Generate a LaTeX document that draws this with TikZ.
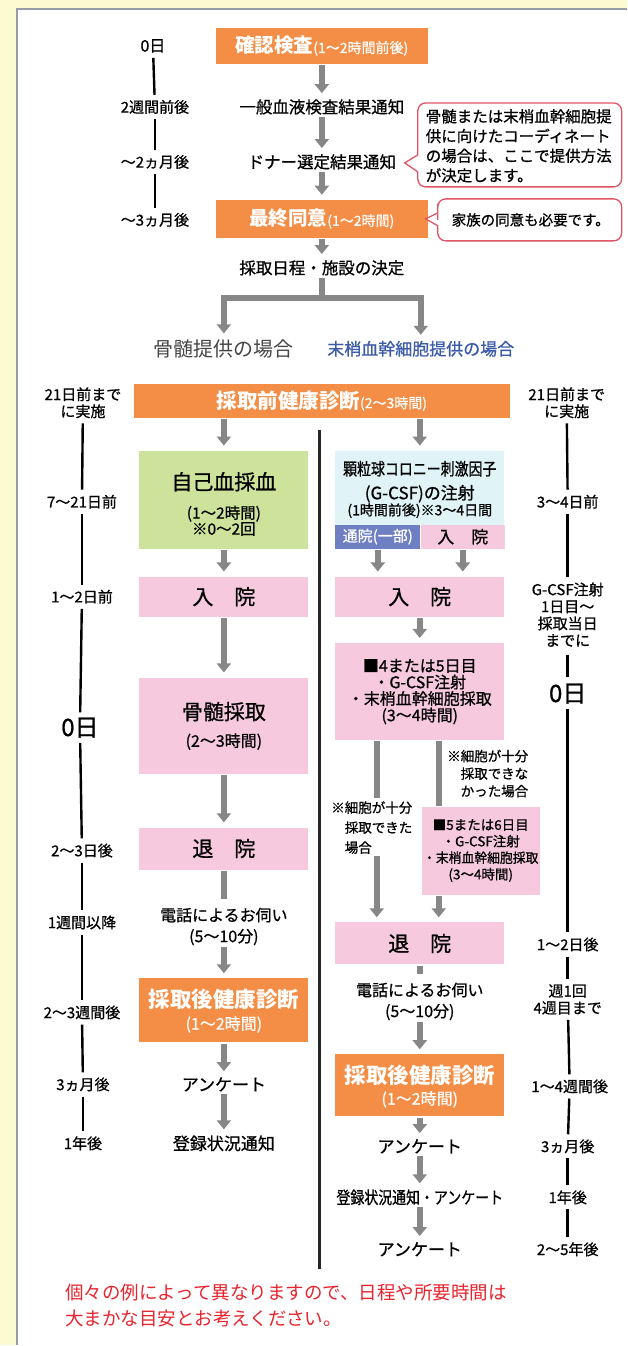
\documentclass[tikz,border=0pt]{standalone}
\usepackage{fontspec}
\usepackage{graphicx}
\setmainfont{Noto Sans CJK JP}[UprightFeatures={FakeBold=0.8}]
\newfontfamily\thinfont{Noto Sans CJK JP}
\usetikzlibrary{arrows.meta,calc}
\definecolor{bgyellow}{RGB}{252,250,208}
\definecolor{framegray}{RGB}{150,155,165}
\definecolor{orangebx}{RGB}{244,142,70}
\definecolor{pinkbx}{RGB}{247,201,222}
\definecolor{greenbx}{RGB}{205,227,155}
\definecolor{cyanbx}{RGB}{224,243,247}
\definecolor{bluebx}{RGB}{110,127,196}
\definecolor{arrgray}{RGB}{135,135,135}
\definecolor{calred}{RGB}{224,84,100}
\definecolor{txtred}{RGB}{232,36,46}
\definecolor{txtblue}{RGB}{60,92,170}
\definecolor{txtgray}{RGB}{70,70,70}
\newcommand{\fs}[2]{\fontsize{#1}{#2}\selectfont}
\newcommand{\sx}[2]{\scalebox{#1}[1]{#2}}
\begin{document}
\begin{tikzpicture}[x=1pt,y=-1pt,
  every node/.style={inner sep=1pt, align=center},
  bx/.style={minimum width=169pt, inner sep=0pt},
  obox/.style={bx, fill=orangebx, text=white},
  pbox/.style={bx, fill=pinkbx},
  gbox/.style={bx, fill=greenbx},
  lbl/.style={font=\fs{15}{17}},
  txt/.style={font=\fs{16.5}{20}},
  tline/.style={line width=2.4pt, shorten <=4pt, shorten >=4pt},
  garrow/.style={line width=6pt, draw=arrgray, -{Triangle[width=14pt,length=9pt]}, shorten <=1pt, shorten >=5pt},
  gstub/.style={line width=6pt, draw=arrgray, shorten <=1pt},
  callout/.style={draw=calred, line width=1.3pt, fill=white},
]
% background
\fill[bgyellow] (0,0) rectangle (627,1346);
\fill[white] (17,9) rectangle (627,1346);
\draw[framegray, line width=1.5pt] (17,1346) -- (17,9) -- (627,9);
\useasboundingbox (0,0) rectangle (627,1346);

% ---------- top section ----------
\node[lbl, font=\fs{16}{18}] (lab0) at (153,46) {0日};
\node[obox, minimum width=212pt, minimum height=36pt] (box1) at (322,46) {{\fs{19.5}{22}\bfseries 確認検査}{\fs{14}{16}(1～2時間前後)}};
\node[lbl] (lab1) at (155,107) {2週間前後};
\node[txt] (t1) at (322,107) {一般血液検査結果通知};
\node[lbl] (lab2) at (155,162) {～2ヵ月後};
\node[txt] (t2) at (322,162) {ドナー選定結果通知};
\node[obox, minimum width=212pt, minimum height=38pt] (box2) at (322,219) {{\fs{19.5}{22}\bfseries 最終同意}{\fs{14}{16}(1～2時間)}};
\node[lbl] (lab3) at (155,220) {～3ヵ月後};
\node[txt] (t3) at (322,268) {採取日程・施設の決定};

\draw[tline] (lab0) -- (lab1);
\draw[tline] (lab1) -- (lab2);
\draw[tline] (lab2) -- (lab3);

\draw[garrow] (box1.south) -- (t1.north);
\draw[garrow] (t1.south) -- (t2.north);
\draw[garrow] (t2.south) -- (box2.north);
\draw[garrow] (box2.south) -- (t3.north);

% callouts
\draw[callout] (418,145) [sharp corners] -- (418,155) -- (405,163) -- (418,172) -- (418,178) [rounded corners=8pt] -- (418,187) -- (622,187) -- (622,103) -- (418,103) -- cycle;
\node[font=\fs{15.5}{19.7}, align=left] (cal1) at (519,146) {骨髄または末梢血幹細胞提\\供に向けたコーディネート\\の場合は、ここで提供方法\\が決定します。};
\draw[callout] (438,212) [sharp corners] -- (438,213) -- (426,219) -- (438,226) -- (438,230) [rounded corners=8pt] -- (438,241) -- (622,241) -- (622,199) -- (438,199) -- cycle;
\node[font=\fs{14.5}{17}] (cal2) at (531,220) {家族の同意も必要です。};

% branch
\node[font=\thinfont\fs{20}{22}, text=txtgray] (t4a) at (224,349) {骨髄提供の場合};
\node[font=\fs{17}{20}, text=txtblue] (t4b) at (421,349) {末梢血幹細胞提供の場合};
\coordinate (br) at (322,298);
\draw[gstub] (t3.south) -- (br);
\draw[garrow, line join=miter, shorten <=0pt] (br) -| (t4a.north);
\draw[garrow, line join=miter, shorten <=0pt] (br) -| (t4b.north);

% pre-exam
\node[obox, minimum width=376pt, minimum height=34pt] (box3) at (322,401) {{\fs{20.5}{22}\bfseries 採取前健康診断}{\fs{14}{16}(2～3時間)}};
\node[lbl] (lab4L) at (83,403) {21日前まで\\に実施};
\node[lbl] (lab4R) at (567,403) {21日前まで\\に実施};

% divider
\coordinate (dv1) at (320,430);
\coordinate (dv2) at (320,1270);
\draw[line width=3pt, black!85] (dv1) -- (dv2);

% ---------- left column ----------
\node[gbox, minimum height=98pt] (g1) at (224,500) {};
\node[font=\fs{21}{22}] (g1a) at (224,482) {自己血採血};
\node[font=\fs{15.5}{16}] (g1b) at (224,521) {(1～2時間)\\※0～2回};
\node[pbox, minimum height=40pt] (pIn1) at (224,597) {\fs{21}{24}入　院};
\node[pbox, minimum height=96pt] (pBone) at (224,726) {};
\node[font=\fs{21}{24}] (pBa) at (224,712) {骨髄採取};
\node[font=\fs{16}{18}] (pBb) at (224,742) {(2～3時間)};
\node[pbox, minimum height=42pt] (pOut1) at (224,849) {\fs{21}{24}退　院};
\node[font=\fs{16}{21}] (tel1) at (224,927) {電話によるお伺い\\(5～10分)};
\node[obox, minimum height=64pt] (oPost1) at (224,1011) {};
\node[font=\fs{21.5}{24}\bfseries, text=white] (oP1a) at (224,1000) {採取後健康診断};
\node[font=\fs{16}{18}, text=white] (oP1b) at (224,1025) {(1～2時間)};
\node[font=\fs{17}{20}] (q1) at (224,1085) {アンケート};
\node[font=\fs{17}{20}] (r1) at (224,1144) {登録状況通知};

\draw[garrow] (box3.south -| g1.north) -- (g1.north);
\draw[garrow] (g1.south) -- (pIn1.north);
\draw[garrow] (pIn1.south) -- (pBone.north);
\draw[garrow] (pBone.south) -- (pOut1.north);
\draw[gstub, shorten >=8pt] (pOut1.south) -- (tel1.north);
\draw[garrow] (tel1.south) -- (oPost1.north);
\draw[garrow] (oPost1.south) -- (q1.north);
\draw[garrow] (q1.south) -- (r1.north);

% left timeline
\node[lbl] (la1) at (82,502) {7～21日前};
\node[lbl] (la2) at (82,597) {1～2日前};
\node[font=\fs{24}{26}] (la3) at (80,728) {0日};
\node[lbl] (la4) at (82,851) {2～3日後};
\node[lbl] (la5) at (82,923) {1週間以降};
\node[lbl] (la6) at (82,1013) {2～3週間後};
\node[lbl] (la7) at (83,1085) {3ヵ月後};
\node[lbl] (la8) at (83,1144) {1年後};
\draw[tline] (lab4L) -- (la1);
\draw[tline] (la1) -- (la2);
\draw[tline] (la2) -- (la3);
\draw[tline] (la3) -- (la4);
\draw[tline] (la4) -- (la5);
\draw[tline] (la5) -- (la6);
\draw[tline] (la6) -- (la7);
\draw[tline] (la7) -- (la8);

% ---------- right column ----------
\node[bx, fill=cyanbx, minimum height=74pt] (c1) at (420,488) {};
\node[font=\fs{17}{18}] (c1a) at (420,469) {\sx{0.82}{顆粒球コロニー刺激因子}};
\node[font=\fs{17}{18}] (c1b) at (420,494) {(G-CSF)の注射};
\node[font=\fs{14}{16}] (c1c) at (420,511) {(1時間前後)※3～4日間};
\node[fill=bluebx, text=white, minimum width=85pt, minimum height=24pt, inner sep=0pt] (c2a) at (378,537) {\fs{15}{17}通院(一部)};
\node[fill=pinkbx, minimum width=84pt, minimum height=24pt, inner sep=0pt] (c2b) at (463,537) {\fs{17}{18}入　院};
\node[pbox, minimum height=40pt] (pIn2) at (420,597) {\fs{21}{24}入　院};
\node[pbox, minimum height=97pt, font=\fs{16}{16.5}] (p45) at (420,692) {■4または5日目\\・G-CSF注射\\・末梢血幹細胞採取\\(3～4時間)};
\node[font=\fs{13.5}{17.5}, align=left] (note1) at (488,774) {※細胞が十分\\\phantom{※}採取できな\\\phantom{※}かった場合};
\node[font=\fs{13.5}{20}, align=left] (note2) at (372,828) {※細胞が十分\\\phantom{※}採取できた\\\phantom{※}場合};
\node[pbox, minimum width=118pt, minimum height=88pt, font=\fs{13.5}{16.5}] (p56) at (481,851) {■5または6日目\\・G-CSF注射\\\sx{0.95}{・末梢血幹細胞採取}\\(3～4時間)};
\node[pbox, minimum height=42pt] (pOut2) at (420,944) {\fs{21}{24}退　院};
\node[font=\fs{16}{21}] (tel2) at (420,1002) {電話によるお伺い\\(5～10分)};
\node[obox, minimum height=62pt] (oPost2) at (420,1086) {};
\node[font=\fs{21.5}{24}\bfseries, text=white] (oP2a) at (420,1076) {採取後健康診断};
\node[font=\fs{16}{18}, text=white] (oP2b) at (420,1100) {(1～2時間)};
\node[font=\fs{17}{20}] (q2) at (420,1147) {アンケート};
\node[font=\fs{17}{20}] (r2) at (420,1198) {\sx{0.82}{登録状況通知・アンケート}};
\node[font=\fs{17}{20}] (q3) at (420,1250) {アンケート};

\draw[garrow] (box3.south -| c1.north) -- (c1.north);
\draw[garrow] (c2a.south) -- (c2a.south |- pIn2.north);
\draw[garrow] (c2b.south) -- (c2b.south |- pIn2.north);
\draw[garrow] (pIn2.south) -- (p45.north);
\coordinate (st1) at ($(p45.south)+(-43,0)$);
\coordinate (st2) at ($(p45.south)+(19,0)$);
\draw[gstub, shorten >=2pt] (st1) -- (st1 |- note2.north);
\draw[garrow] (note2.south -| st1) -- (st1 |- pOut2.north);
\draw[gstub] (st2) -- (st2 |- p56.north);
\draw[garrow] (p56.south -| st2) -- (st2 |- pOut2.north);
\draw[gstub, shorten >=8pt] (pOut2.south) -- (tel2.north);
\draw[garrow] (tel2.south) -- (oPost2.north);
\draw[garrow] (oPost2.south) -- (q2.north);
\draw[garrow] (q2.south) -- (r2.north);
\draw[garrow] (r2.south) -- (q3.north);

% right timeline
\node[lbl] (ra1) at (568,502) {3～4日前};
\node[lbl] (ra2) at (568,615) {G-CSF注射\\1日目～\\採取当日\\までに};
\node[font=\fs{24}{26}] (ra3) at (568,694) {0日};
\node[lbl] (ra4) at (568,945) {1～2日後};
\node[lbl] (ra5) at (568,1000) {週1回\\4週目まで};
\node[lbl] (ra6) at (570,1087) {1～4週間後};
\node[lbl] (ra7) at (568,1147) {3ヵ月後};
\node[lbl] (ra8) at (568,1198) {1年後};
\node[lbl] (ra9) at (568,1250) {2～5年後};
\coordinate (rt1) at (568,655);
\coordinate (rt2) at (568,677);
\draw[tline] (lab4R) -- (ra1);
\draw[tline] (ra1) -- (ra2);
\draw[line width=2.4pt, black] (rt1) -- (rt2);
\draw[tline] (ra3) -- (ra4);
\draw[tline] (ra4) -- (ra5);
\draw[tline] (ra5) -- (ra6);
\draw[tline] (ra6) -- (ra7);
\draw[tline] (ra7) -- (ra8);
\draw[tline] (ra8) -- (ra9);

% bottom note
\node[anchor=west, font=\thinfont\fs{18.5}{26}, text=txtred, align=left] (note) at (64,1306) {個々の例によって異なりますので、日程や所要時間は\\大まかな目安とお考えください。};
\end{tikzpicture}
\end{document}
